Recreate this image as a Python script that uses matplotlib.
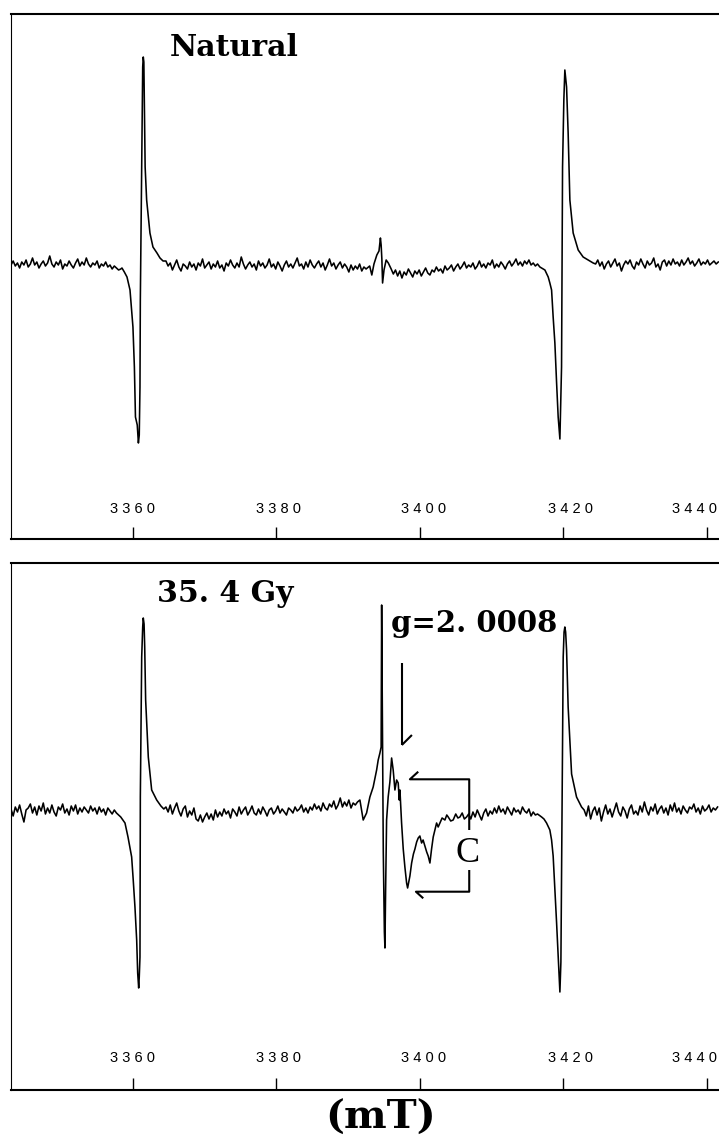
import numpy as np
import matplotlib
matplotlib.use('Agg')
import matplotlib.pyplot as plt

# ---------------- data (field in mT, signal in arbitrary units, baseline = 0) ----------------
STEP = 0.3  # sampling interval of the read-off baseline segments (mT)

# Top spectrum: "Natural"
top_base1_start = 3343.0
top_base1 = [2, 6, 1, 4, -1, 5, 2, 7, 0, 3,
             9, 2, 5, -1, 3, 6, 1, 4, 11, 3,
             0, 5, 2, 7, -2, 3, 1, 6, 2, -1,
             4, 8, 1, 5, 2, 9, 3, 0, 4, 2,
             6, -1, 3, 1, 5, 0, 2, -2, 1, -1,
             -3, -2]
top_line1_field = [3358.47, 3358.8, 3359.17, 3359.59, 3360.0, 3360.2, 3360.35, 3360.6,
                   3360.76, 3360.88, 3360.98, 3361.03, 3361.22, 3361.36, 3361.44, 3361.52,
                   3361.62, 3361.70, 3361.91, 3362.37, 3362.79, 3363.35, 3363.77, 3364.2]
top_line1_signal = [-1, -5, -10, -23, -60, -100, -150, -158, -176, -168, -120, -33,
                    100, 200, 210, 205, 150, 100, 67, 34, 20, 14, 9, 6]
top_base2_start = 3364.6
top_base2 = [6, 1, 4, -3, 2, 7, 0, -4, 3, 1,
             -2, 5, 0, 3, -3, 4, 1, 8, -1, 2,
             5, -2, 3, 0, 6, -1, 2, -4, 4, 1,
             7, 2, -1, 4, 0, 10, 3, -2, 2, 5,
             0, 3, -3, 6, 1, 4, -1, 2, 8, 0,
             3, -2, 5, 1, -4, 2, 6, 0, 3, -1,
             4, 9, 1, 3, -2, 5, 0, 7, 2, -1,
             3, 6, 0, 4, -3, 2, 8, 1, 4, -2,
             2, 5, -1, 3, 0, -5, 2, -3, 1, -2,
             3, -4, 0, -2]
top_center_field = [3393.0, 3393.3, 3393.6, 3394.0, 3394.3, 3394.5, 3394.6, 3394.7,
                    3394.8, 3395.0, 3395.3, 3395.6]
top_center_signal = [1, -8, 3, 12, 16, 29, 22, 8, -16, -3, 7, 4]
top_base3_start = 3396.0
top_base3 = [-2, -7, -3, -9, -4, -11, -5, -8, -2, -6,
             -10, -4, -7, -3, -9, -5, -1, -6, -8, -3,
             -5, 0, -4, -2, -6, 1, -3, -1, 2, -4,
             0, 3, -2, 1, 5, -1, 2, 0, 4, -2,
             1, 6, 0, 3, -1, 4, 2, 7, -1, 3,
             0, 5, 2, -2, 3, 6, 1, 4, 8, 2,
             5, 1, 6, 3, 7, 2, 4, 1, 3]
top_line2_field = [3416.73, 3417.43, 3417.89, 3418.12, 3418.36, 3418.58, 3418.82, 3419.06,
                   3419.28, 3419.52, 3419.75, 3419.89, 3420.07, 3420.21, 3420.45, 3420.67,
                   3420.91, 3421.37, 3422.07, 3422.76, 3424.16]
top_line2_signal = [0, -3, -10, -16, -23, -50, -76, -116, -150, -172, -100, 100,
                    167, 197, 180, 134, 67, 34, 17, 10, 4]
top_base4_start = 3424.5
top_base4 = [3, 7, 1, 5, -2, 3, 6, 0, 4, 8,
             1, 4, -4, 2, 6, 3, 7, 1, -2, 5,
             2, 8, 3, -1, 6, 2, 4, 9, 0, 3,
             -3, 5, 7, 1, 6, 2, 8, 3, 5, 1,
             7, 2, 5, 9, 3, 6, 1, 4, 8, 2,
             5, 3, 7, 2, 4, 6, 3, 5]

# Bottom spectrum: "35. 4 Gy"
bot_base1_start = 3343.0
bot_base1 = [3, -4, 5, 0, 7, -2, -10, 2, 4, 8,
             -1, 5, -3, 6, 1, 9, -2, 4, -1, 7,
             0, -4, 5, 2, 8, -1, 3, -3, 6, 1,
             7, -2, 4, 0, 5, 2, -1, 6, 1, 4,
             -2, 5, 0, 3, -3, 4, 1, -2, 2, -1,
             -3, -5]
bot_line1_field = [3358.89, 3359.31, 3359.82, 3360.04, 3360.28, 3360.52, 3360.66, 3360.80,
                   3360.88, 3360.98, 3361.03, 3361.22, 3361.36, 3361.44, 3361.55, 3361.64,
                   3361.77, 3362.14, 3362.61, 3363.31, 3363.9, 3364.3]
bot_line1_signal = [-11, -25, -45, -68, -95, -128, -161, -176, -165, -145, 15, 155,
                    185, 194, 188, 165, 112, 55, 22, 12, 6, 3]
bot_base2_start = 3364.6
bot_base2 = [5, 0, 7, -2, 4, 9, 1, -4, 3, 6,
             -5, 1, -3, 4, -7, -9, -3, -10, -5, -1,
             -7, -2, -8, 2, -5, 0, -4, 3, -2, 1,
             -6, 3, 0, -4, 5, -2, 2, 5, -3, 1,
             6, -1, -3, 3, -2, 5, 1, -4, 2, 4,
             -2, 1, 6, -1, 3, 0, -3, 4, 2, -1,
             5, 1, 3, 7, 0, 4, -1, 5, 2, 8,
             3, 6, 1, 9, 4, 2, 8, 5, 11, 3,
             7, 14, 5, 10, 6, 12, 4, 9, 7, 10]
bot_center_field = [3391.64, 3392.10, 3392.57, 3393.03, 3393.49, 3393.97, 3394.19, 3394.43,
                    3394.60, 3394.67, 3394.75, 3394.90, 3395.05, 3395.13, 3395.22, 3395.36,
                    3395.58, 3395.82, 3396.06, 3396.28, 3396.52, 3396.76, 3396.98, 3397.12,
                    3397.22, 3397.45, 3397.68, 3397.91, 3398.15, 3398.29, 3398.61, 3398.85,
                    3399.10, 3399.31, 3399.55, 3399.77, 3400.00, 3400.24, 3400.45, 3400.70,
                    3400.95, 3401.16, 3401.40, 3401.63, 3401.86, 3402.09, 3402.33, 3402.55,
                    3402.79, 3403.10, 3403.49, 3403.75, 3403.95, 3404.30, 3404.64, 3405.00,
                    3405.30, 3405.58, 3405.90, 3406.20, 3406.51]
bot_center_signal = [12, -8, -1, 15, 25, 42, 52, 59,
                     65, 207, 120, -40, -120, -136, -80, -8,
                     15, 30, 54, 42, 22, 32, 29, 12,
                     22, -11, -37, -55, -71, -76, -64, -51,
                     -42, -37, -30, -26, -24, -31, -28, -34,
                     -40, -44, -51, -37, -25, -18, -11, -15,
                     -11, -6, -8, -3, -5, -9, -8, -2,
                     -6, -5, -1, -7, -5]
bot_base3_start = 3406.8
bot_base3 = [-2, -7, 0, -5, 2, -3, -8, -1, 3, -4,
             1, -2, 4, -1, 6, 0, 3, -2, 5, 1,
             -3, 4, 0, 2, -2, 5, 1, -1, 3, -4,
             0, -3, -2]
bot_line2_field = [3416.97, 3417.3, 3417.66, 3418.12, 3418.36, 3418.58, 3418.82, 3419.06,
                   3419.28, 3419.45, 3419.52, 3419.66, 3419.84, 3419.98, 3420.10, 3420.21,
                   3420.32, 3420.45, 3420.67, 3421.15, 3421.84, 3422.54]
bot_line2_signal = [-5, -7, -11, -18, -28, -44, -77, -111, -144, -170, -180, -150,
                    22, 155, 180, 185, 180, 162, 105, 38, 15, 5]
bot_base4_start = 3422.9
bot_base4 = [2, -4, 6, -7, 1, 5, -3, 4, -9, 0,
             7, -2, 3, -5, 2, 9, 0, -4, 5, 1,
             -6, 3, 7, -2, 1, -3, 6, 0, 10, 2,
             -3, 5, 1, 8, -2, 3, 6, -1, 4, -3,
             7, 1, 9, 0, 4, -2, 6, 2, -1, 5,
             3, 8, 0, 4, -2, 6, 1, 3, 7, 0,
             4, 2, 5]

tick_values = [3360, 3380, 3400, 3420, 3440]
tick_labels = ['3360', '3380', '3400', '3420', '3440']

panel_titles = ['Natural', '35. 4 Gy']
g_label = 'g=2. 0008'
bracket_label = 'C'
unit_label = '(mT)'


# ---------------- assemble ----------------
def seg(start, vals):
    v = np.asarray(vals, float)
    return start + STEP * np.arange(len(v)), v


def assemble(parts):
    xs, ys = [], []
    for x, y in parts:
        xs.append(np.asarray(x, float))
        ys.append(np.asarray(y, float))
    return np.concatenate(xs), np.concatenate(ys)


top_x, top_y = assemble([
    seg(top_base1_start, top_base1),
    (top_line1_field, top_line1_signal),
    seg(top_base2_start, top_base2),
    (top_center_field, top_center_signal),
    seg(top_base3_start, top_base3),
    (top_line2_field, top_line2_signal),
    seg(top_base4_start, top_base4),
])
bot_x, bot_y = assemble([
    seg(bot_base1_start, bot_base1),
    (bot_line1_field, bot_line1_signal),
    seg(bot_base2_start, bot_base2),
    (bot_center_field, bot_center_signal),
    seg(bot_base3_start, bot_base3),
    (bot_line2_field, bot_line2_signal),
    seg(bot_base4_start, bot_base4),
])

# ---------------- figure ----------------
W, H = 719, 1144
fig = plt.figure(figsize=(W / 100, H / 100), dpi=100)


def fx(px):
    return px / W


def fy(py):
    return 1 - py / H


AX_L, AX_R = 11, 719
ax1 = fig.add_axes([fx(AX_L), fy(539), (AX_R - AX_L) / W, (539 - 14) / H])
ax2 = fig.add_axes([fx(AX_L), fy(1090), (AX_R - AX_L) / W, (1090 - 563) / H])

# horizontal centres (pixels) of the tick labels; the last one sits left of its tick
label_px = [133, 279, 424, 570, 694]

for ax, x, y, ylim, lab_y in [(ax1, top_x, top_y, (-272, 253), 0.058),
                              (ax2, bot_x, bot_y, (-278, 249), 0.061)]:
    ax.plot(x, y, color='black', lw=1.15, solid_joinstyle='round')
    ax.set_xlim(3343.0, 3441.7)
    ax.set_ylim(*ylim)
    ax.spines['right'].set_visible(False)
    ax.spines['left'].set_linewidth(0.8)
    ax.spines['top'].set_linewidth(1.5)
    ax.spines['bottom'].set_linewidth(1.5)
    ax.set_yticks([])
    ax.set_xticks(tick_values)
    ax.tick_params(axis='x', direction='in', length=9, width=1.0,
                   labelbottom=False)
    for lp, tl in zip(label_px, tick_labels):
        ax.text((lp - AX_L) / (AX_R - AX_L), lab_y, ' '.join(tl), transform=ax.transAxes,
                ha='center', va='center', fontsize=10.5, family='Liberation Sans')

bold_serif = dict(family='DejaVu Serif', fontweight='bold')
fig.text(fx(170), fy(48), panel_titles[0], ha='left', va='center', fontsize=21.5, **bold_serif)
fig.text(fx(157), fy(593), panel_titles[1], ha='left', va='center', fontsize=21.5, **bold_serif)
fig.text(fx(391), fy(624), g_label, ha='left', va='center', fontsize=21, **bold_serif)
fig.text(fx(381), fy(1118), unit_label, ha='center', va='center', fontsize=29, **bold_serif)

# annotation: arrow to the g=2.0008 line
ann = dict(color='black', lw=1.5, solid_capstyle='butt', clip_on=False)
ax2.plot([3397.49, 3397.49], [149, 67], **ann)
ax2.plot([3397.49, 3398.89], [67, 77], **ann)
# bracket marking signal C
ax2.plot([3399.77, 3398.61, 3406.88, 3406.88], [40.3, 32.7, 32.7, -18], **ann)
ax2.plot([3406.88, 3406.88, 3399.45, 3400.47], [-58, -79.7, -79.7, -86.3], **ann)
ax2.text(3406.6, -41, bracket_label, ha='center', va='center', fontsize=26,
         family='Liberation Serif')

fig.savefig('out.png', dpi=100)
